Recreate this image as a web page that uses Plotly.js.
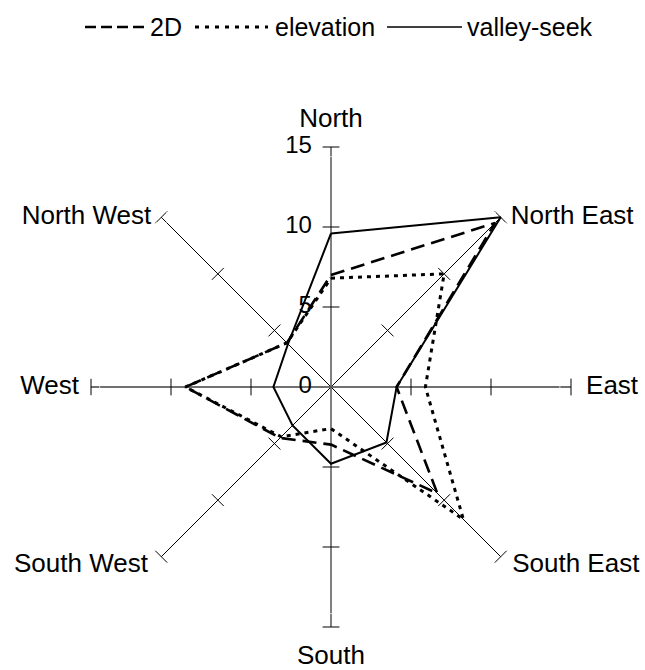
<!DOCTYPE html>
<html><head><meta charset="utf-8">
<script src="https://cdn.plot.ly/plotly-3.0.1.min.js"></script>
<style>html,body{margin:0;padding:0;background:#fff}#chart{width:645px;height:670px}</style>
</head><body><div id="chart"></div>
<script>
// ---- data ----
const directions = ['North','North East','East','South East','South','South West','West','North West'];
const twoD       = [7.0, 14.5, 4.1, 9.4, 3.6, 4.5, 9.1, 3.9];
const elevation  = [6.8, 10.0, 5.9, 11.7, 2.6, 4.4, 9.1, 3.9];
const valleySeek = [9.6, 15.0, 4.1, 4.9, 4.8, 3.4, 3.6, 3.8];
const radialTicks = [0, 5, 10, 15];
const seriesNames = ['2D', 'elevation', 'valley-seek'];

const FONT = 'Liberation Sans, Arial, sans-serif';
const close = a => a.concat([a[0]]);
const thetaClosed = close(directions);
const rMax = radialTicks[radialTicks.length - 1];
const rView = rMax + 1;   // a little room outside the spokes for labels

// spokes
const diagR = [], diagT = [];
directions.forEach((d, i) => { if (i % 2) { diagR.push(0, rMax, null); diagT.push(d, d, d); } });
const spokeDiag = {type:'scatterpolar', mode:'lines', r:diagR, theta:diagT, connectgaps:false,
  line:{color:'#000', width:1}, hoverinfo:'skip', showlegend:false};
const spokeNS = {type:'scatterpolar', mode:'lines', r:[rMax,0,rMax], theta:[directions[0],directions[0],directions[4]],
  line:{color:'#808080', width:2}, hoverinfo:'skip', showlegend:false};
const spokeEW = {type:'scatterpolar', mode:'lines', r:[rMax,0,rMax], theta:[directions[2],directions[2],directions[6]],
  line:{color:'#404040', width:1.5}, hoverinfo:'skip', showlegend:false};

// cross tick marks on every spoke
const tr = [], tt = [], ta = [];
directions.forEach((d, i) => {
  radialTicks.slice(1).forEach(v => { tr.push(v); tt.push(d); ta.push(i * 45); });
});
const tickMarks = {type:'scatterpolar', mode:'markers', r:tr, theta:tt,
  marker:{symbol:'line-ew', size:12, angle:ta, color:'#000', line:{color:'#000', width:1}},
  hoverinfo:'skip', showlegend:false};

// value labels along the North spoke (horizontal, to the left)
const tickLabels = {type:'scatterpolar', mode:'markers+text', r:radialTicks, theta:radialTicks.map(() => directions[0]),
  text:radialTicks.map(String), textposition:'middle left',
  textfont:{family:FONT, size:24, color:'#000'},
  marker:{size:29, color:'rgba(0,0,0,0)'}, hoverinfo:'skip', showlegend:false};

// direction labels just beyond the end of each spoke
const labelPush = [0, 0, 0, 0.76, 0, 0.76, 0, 0];   // extra radial offset of label anchor (style)
const dirLabels = {type:'scatterpolar', mode:'markers+text', cliponaxis:false,
  r:directions.map((d, i) => rMax + labelPush[i]), theta:directions,
  text:directions,
  textposition:['top center','middle right','middle right','middle right','bottom center','middle left','middle left','middle left'],
  textfont:{family:FONT, size:26, color:'#000'},
  marker:{size:[19.5, 14.5, 22.5, 3, 27, 6, 17.5, 14.5], color:'rgba(0,0,0,0)'},
  hoverinfo:'skip', showlegend:false};

const sTwoD = {type:'scatterpolar', mode:'lines', name:seriesNames[0], r:close(twoD), theta:thetaClosed,
  line:{color:'#000', width:2.6, dash:'14px,7px'}};
const sElev = {type:'scatterpolar', mode:'lines', name:seriesNames[1], r:close(elevation), theta:thetaClosed,
  line:{color:'#000', width:3, dash:'4px,5px'}};
const sValley = {type:'scatterpolar', mode:'lines', name:seriesNames[2], r:close(valleySeek), theta:thetaClosed,
  line:{color:'#000', width:2}};

const W = 645, H = 670;
const px = x => x / W, py = y => 1 - y / H;
const legY = py(27);
const cx = 331, cy = 387, R = 240 * rView / rMax;

const layout = {
  width:W, height:H, margin:{l:0, r:0, t:0, b:0},
  paper_bgcolor:'#fff', plot_bgcolor:'#fff', showlegend:false,
  font:{family:FONT, color:'#000', size:25},
  polar:{
    domain:{x:[px(cx - R), px(cx + R)], y:[py(cy + R), py(cy - R)]},
    bgcolor:'rgba(0,0,0,0)',
    angularaxis:{type:'category', categoryarray:directions, rotation:90, direction:'clockwise',
      showgrid:false, showline:false, ticks:'', showticklabels:false},
    radialaxis:{range:[0, rView], angle:90, showgrid:false, showline:false, ticks:'', showticklabels:false}
  },
  shapes:[
    {type:'line', xref:'paper', yref:'paper', x0:px(85), x1:px(145), y0:legY, y1:legY, line:{color:'#000', width:2.6, dash:'11px,5px'}},
    {type:'line', xref:'paper', yref:'paper', x0:px(195), x1:px(268), y0:legY, y1:legY, line:{color:'#000', width:3, dash:'4px,6px'}},
    {type:'line', xref:'paper', yref:'paper', x0:px(387), x1:px(462), y0:legY, y1:legY, line:{color:'#000', width:1.5}}
  ],
  annotations:[
    {xref:'paper', yref:'paper', x:px(148), y:legY, xanchor:'left', yanchor:'middle', text:seriesNames[0], showarrow:false, font:{family:FONT, size:25}},
    {xref:'paper', yref:'paper', x:px(273), y:legY, xanchor:'left', yanchor:'middle', text:seriesNames[1], showarrow:false, font:{family:FONT, size:25}},
    {xref:'paper', yref:'paper', x:px(465), y:legY, xanchor:'left', yanchor:'middle', text:seriesNames[2], showarrow:false, font:{family:FONT, size:25}}
  ]
};

Plotly.newPlot('chart', [spokeDiag, spokeNS, spokeEW, tickMarks, tickLabels, dirLabels, sTwoD, sElev, sValley], layout, {displayModeBar:false, staticPlot:true});
</script>
</body></html>
